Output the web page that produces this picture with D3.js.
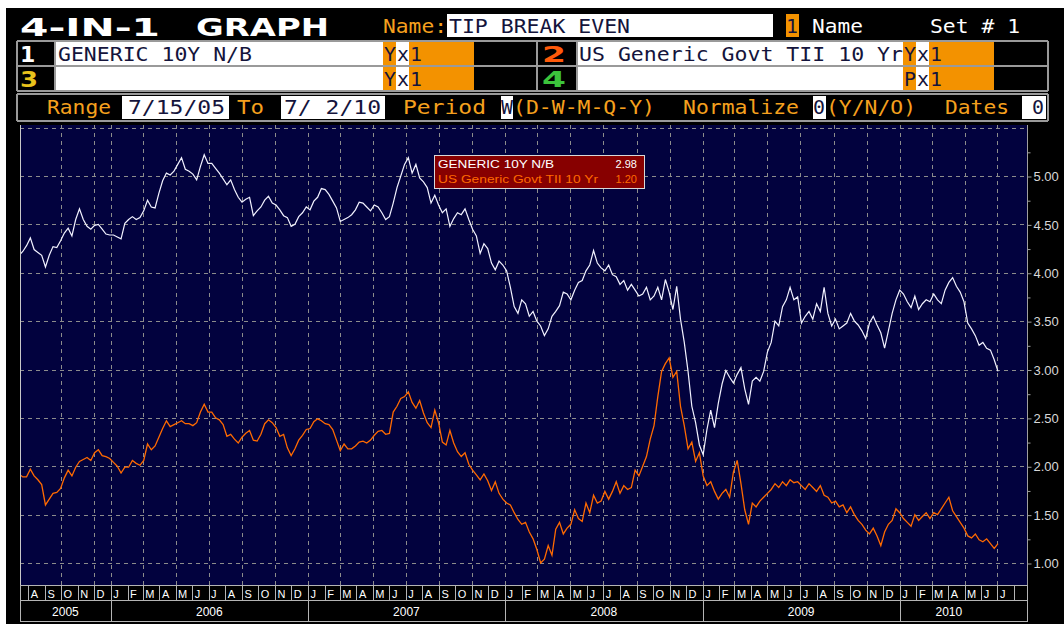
<!DOCTYPE html>
<html>
<head>
<meta charset="utf-8">
<script src="https://cdn.jsdelivr.net/npm/d3@7"></script>
<style>
  body { margin: 0; background: #fff; }
  svg { display: block; }
</style>
</head>
<body>
<div id="chart"></div>
<script>
'use strict';

// weekly closes (Fridays) from 7/15/05 to 7/2/10
var startDate = '2005-07-15';

var nominal10y = [
  4.18,4.22,4.28,4.36,4.24,4.21,4.18,4.06,4.18,4.27,
  4.26,4.33,4.41,4.46,4.38,4.55,4.66,4.55,4.48,4.45,
  4.49,4.50,4.45,4.40,4.39,4.39,4.37,4.35,4.51,4.55,
  4.58,4.55,4.57,4.64,4.75,4.68,4.67,4.82,4.95,5.03,
  5.01,5.05,5.12,5.19,5.07,5.05,5.02,4.96,5.10,5.22,
  5.13,5.13,5.08,5.03,4.97,4.91,4.96,4.86,4.78,4.73,
  4.76,4.78,4.59,4.64,4.68,4.75,4.79,4.72,4.70,4.65,
  4.59,4.57,4.48,4.50,4.58,4.62,4.68,4.65,4.74,4.78,
  4.87,4.86,4.81,4.74,4.67,4.53,4.55,4.57,4.60,4.65,
  4.73,4.72,4.68,4.64,4.70,4.68,4.62,4.55,4.58,4.72,
  4.88,5.00,5.12,5.19,5.03,5.12,4.98,4.94,4.88,4.72,
  4.80,4.70,4.62,4.66,4.48,4.56,4.62,4.60,4.66,4.55,
  4.45,4.38,4.20,4.30,4.25,4.10,4.03,4.12,4.08,4.02,
  3.85,3.65,3.58,3.72,3.68,3.55,3.60,3.50,3.45,3.35,
  3.42,3.55,3.60,3.66,3.80,3.78,3.72,3.82,3.90,3.92,
  4.02,4.08,4.23,4.10,4.05,4.02,4.08,3.98,3.96,3.88,
  3.92,3.82,3.88,3.82,3.76,3.78,3.85,3.72,3.76,3.85,
  3.72,3.93,3.80,3.62,3.86,3.52,3.28,2.98,2.62,2.45,
  2.22,2.12,2.38,2.58,2.40,2.65,2.85,2.99,2.92,2.86,
  2.95,3.02,2.80,2.64,2.88,2.92,2.88,2.98,3.18,3.28,
  3.50,3.45,3.65,3.72,3.85,3.72,3.75,3.48,3.55,3.60,
  3.52,3.68,3.60,3.85,3.58,3.45,3.52,3.42,3.45,3.48,
  3.58,3.50,3.46,3.40,3.32,3.48,3.55,3.46,3.38,3.22,
  3.40,3.58,3.72,3.82,3.78,3.70,3.64,3.76,3.62,3.68,
  3.72,3.70,3.78,3.72,3.68,3.82,3.90,3.95,3.86,3.80,
  3.70,3.48,3.42,3.35,3.25,3.28,3.22,3.20,3.10,2.98
];

var tips10y = [
  1.92,1.89,1.89,1.97,1.90,1.86,1.81,1.60,1.66,1.72,
  1.73,1.77,1.88,1.96,1.90,1.99,2.05,2.07,2.09,2.06,
  2.14,2.17,2.11,2.10,2.08,2.04,2.00,1.93,1.99,1.99,
  2.06,2.03,2.01,2.06,2.23,2.17,2.21,2.30,2.39,2.47,
  2.41,2.43,2.45,2.47,2.44,2.44,2.42,2.45,2.56,2.64,
  2.56,2.56,2.50,2.48,2.43,2.31,2.33,2.28,2.24,2.30,
  2.34,2.37,2.27,2.26,2.33,2.44,2.48,2.45,2.40,2.31,
  2.33,2.19,2.11,2.18,2.27,2.32,2.38,2.39,2.46,2.49,
  2.47,2.44,2.43,2.38,2.27,2.16,2.23,2.18,2.18,2.21,
  2.25,2.26,2.24,2.27,2.32,2.36,2.37,2.33,2.34,2.56,
  2.62,2.70,2.72,2.77,2.66,2.60,2.68,2.55,2.45,2.40,
  2.58,2.45,2.25,2.22,2.37,2.24,2.15,2.10,2.14,2.02,
  1.96,1.91,1.86,1.92,1.85,1.75,1.84,1.72,1.66,1.62,
  1.60,1.52,1.45,1.40,1.42,1.32,1.25,1.14,1.00,1.04,
  1.18,1.08,1.35,1.42,1.30,1.36,1.40,1.55,1.46,1.43,
  1.62,1.52,1.70,1.62,1.64,1.74,1.66,1.74,1.84,1.72,
  1.80,1.76,1.78,1.96,1.90,2.00,2.10,2.28,2.42,2.72,
  2.98,3.06,3.12,2.92,2.98,2.62,2.42,2.18,2.25,2.05,
  2.14,1.90,1.80,1.84,1.74,1.66,1.72,1.76,1.68,1.94,
  2.06,1.82,1.55,1.40,1.62,1.58,1.64,1.68,1.72,1.76,
  1.82,1.78,1.84,1.80,1.86,1.83,1.84,1.80,1.76,1.82,
  1.78,1.74,1.80,1.70,1.68,1.62,1.64,1.58,1.60,1.52,
  1.58,1.50,1.44,1.40,1.34,1.30,1.36,1.28,1.18,1.32,
  1.40,1.44,1.56,1.52,1.46,1.42,1.38,1.50,1.44,1.48,
  1.52,1.46,1.52,1.50,1.56,1.62,1.68,1.54,1.48,1.42,
  1.36,1.28,1.26,1.30,1.24,1.22,1.25,1.20,1.15,1.20
];

var seriesNames = ['GENERIC 10Y N/B', 'US Generic Govt TII 10 Yr'];
var yTicks = [1.00, 1.50, 2.00, 2.50, 3.00, 3.50, 4.00, 4.50, 5.00];
var yGrid = [1.00, 1.50, 2.00, 2.50, 3.00, 3.50, 4.00, 4.50, 5.00, 5.50];
var monthLetters = ['J','F','M','A','M','J','J','A','S','O','N','D'];
var extraGridMonths = ['2005-10-01', '2005-12-01'];

var W = 1064, H = 624;
var plot = {left: 20, right: 1027, top: 125, bottom: 585};
var MONO = "'DejaVu Sans Mono', monospace";
var SANS = "'Liberation Sans', Arial, sans-serif";
var AMBER = '#f5a01e', ORANGE = '#f39200', INK = '#14143c', BORDER = '#9a9a9a';

var parse = d3.timeParse('%Y-%m-%d');
var dates = nominal10y.map(function(v, i){ return d3.timeDay.offset(parse(startDate), 7 * i); });
var last = dates[dates.length - 1];

var x = d3.scaleTime().domain([dates[0], last]).range([19, 998]);
var y = d3.scaleLinear().domain([1, 5]).range([563, 176]);

var svg = d3.select('#chart').append('svg').attr('width', W).attr('height', H);
svg.append('rect').attr('width', W).attr('height', H).attr('fill', '#fff');
svg.append('rect').attr('x', 6).attr('y', 8).attr('width', W - 6).attr('height', H - 8).attr('fill', '#000');

// ---------- header ----------
var header = svg.append('g');

function cell(x0, x1, y0, y1, fill){
  header.append('rect').attr('x', x0).attr('y', y0)
    .attr('width', x1 - x0).attr('height', y1 - y0).attr('fill', fill);
}
function word(x0, base, str, fill, pitch){
  pitch = pitch || 13;
  header.append('text').attr('x', x0).attr('y', base).attr('fill', fill)
    .attr('font-family', MONO).attr('font-size', 20)
    .attr('textLength', str.length * pitch - 1).attr('lengthAdjust', 'spacingAndGlyphs')
    .text(str);
}
function digit(x0, base, str, fill, len){
  var t = header.append('text').attr('x', x0).attr('y', base).attr('fill', fill)
    .attr('font-family', "'DejaVu Sans', sans-serif").attr('font-weight', 'bold').attr('font-size', 22)
    .text(str);
  if (len) t.attr('textLength', len).attr('lengthAdjust', 'spacingAndGlyphs');
}
function hline(x0, x1, yy){
  header.append('line').attr('x1', x0).attr('x2', x1).attr('y1', yy).attr('y2', yy)
    .attr('stroke', BORDER).attr('stroke-width', 2);
}
function vline(xx, y0, y1){
  header.append('line').attr('x1', xx).attr('x2', xx).attr('y1', y0).attr('y2', y1)
    .attr('stroke', BORDER).attr('stroke-width', 2);
}

// row 1
header.append('text').attr('x', 20).attr('y', 36).attr('fill', '#fff')
  .attr('font-family', "'DejaVu Sans', sans-serif").attr('font-weight', 'bold').attr('font-size', 25)
  .attr('textLength', 140).attr('lengthAdjust', 'spacingAndGlyphs').text('4-IN-1');
header.append('text').attr('x', 196).attr('y', 36).attr('fill', '#fff')
  .attr('font-family', "'DejaVu Sans', sans-serif").attr('font-weight', 'bold').attr('font-size', 25)
  .attr('textLength', 133).attr('lengthAdjust', 'spacingAndGlyphs').text('GRAPH');
word(383, 33, 'Name:', AMBER);
cell(447, 773, 14, 37, '#fff');
word(449, 33, 'TIP BREAK EVEN', INK);
cell(786, 799, 14, 37, ORANGE);
word(786, 33, '1', INK);
word(812, 33, 'Name', '#fff');
word(930, 33, 'Set # 1', '#fff');

// rows 2 & 3 : security lines
var rows = [
  {y0: 42, y1: 65, base: 61, n1: '1', c1: '#ffffff', n2: '2', c2: '#ff5a0a', s1: seriesNames[0], s2: seriesNames[1], k2: 'Y'},
  {y0: 67, y1: 90, base: 86, n1: '3', c1: '#e8c21c', n2: '4', c2: '#3cc43c', s1: '', s2: '', k2: 'P'}
];
rows.forEach(function(r){
  cell(55, 383, r.y0, r.y1, '#fff');
  cell(383, 396, r.y0, r.y1, ORANGE);
  cell(396, 409, r.y0, r.y1, '#fff');
  cell(409, 474, r.y0, r.y1, ORANGE);
  cell(577, 903, r.y0, r.y1, '#fff');
  cell(903, 916, r.y0, r.y1, ORANGE);
  cell(916, 929, r.y0, r.y1, '#fff');
  cell(929, 994, r.y0, r.y1, ORANGE);
  digit(20, r.base + 1, r.n1, r.c1, r.n1 === '1' ? null : 18);
  digit(542, r.base + 1, r.n2, r.c2, 24);
  if (r.s1) word(58, r.base, r.s1, INK);
  if (r.s2) word(579, r.base, r.s2, INK);
  word(384, r.base, 'Y', INK);
  word(397, r.base, 'x', INK);
  word(410, r.base, '1', INK);
  word(904, r.base, r.k2, INK);
  word(917, r.base, 'x', INK);
  word(930, r.base, '1', INK);
});
hline(17, 1048, 41);
hline(17, 1048, 66);
hline(17, 1048, 91);
vline(17, 41, 91);
vline(55, 41, 91);
vline(537, 41, 91);
vline(577, 41, 91);
vline(1048, 41, 91);

// row 4 : range line
hline(17, 1048, 94);
hline(17, 1048, 121);
vline(17, 94, 121);
vline(1048, 94, 121);
word(47, 114, 'Range', AMBER);
cell(122, 229, 96, 119, '#fff');
word(128, 114, '7/15/05', INK, 14);
word(237, 114, 'To', AMBER, 14);
cell(281, 385, 96, 119, '#fff');
word(284, 114, '7/ 2/10', INK, 14);
word(403, 114, 'Period', AMBER, 14);
cell(501, 513, 96, 119, '#fff');
word(501, 114, 'W', INK);
word(513, 114, '(D-W-M-Q-Y)', AMBER);
word(683, 114, 'Normalize', AMBER);
cell(813, 826, 96, 119, '#fff');
word(813, 114, '0', INK);
word(826, 114, '(Y/N/O)', AMBER);
word(945, 114, 'Dates', AMBER);
cell(1022, 1046, 96, 119, '#fff');
word(1032, 114, '0', INK);

// ---------- plot ----------
svg.append('rect').attr('x', plot.left).attr('y', plot.top)
  .attr('width', plot.right - plot.left).attr('height', plot.bottom - plot.top)
  .attr('fill', '#02023e');

svg.append('clipPath').attr('id', 'clip').append('rect')
  .attr('x', plot.left).attr('y', plot.top)
  .attr('width', plot.right - plot.left).attr('height', plot.bottom - plot.top);

var grid = svg.append('g').attr('stroke', '#8c8c8c').attr('stroke-dasharray', '4,4').attr('stroke-width', 1);

grid.selectAll('.hg').data(yGrid).enter().append('line')
  .attr('x1', plot.left).attr('x2', plot.right)
  .attr('y1', function(d){ return Math.round(y(d)) + 0.5; })
  .attr('y2', function(d){ return Math.round(y(d)) + 0.5; });

var xEnd = x.invert(plot.right);
var gridMonths = extraGridMonths.map(parse)
  .concat(d3.timeMonth.every(2).range(parse('2006-01-01'), xEnd));
grid.selectAll('.vg').data(gridMonths).enter().append('line')
  .attr('y1', plot.top).attr('y2', plot.bottom)
  .attr('x1', function(d){ return Math.round(x(d)) + 0.5; })
  .attr('x2', function(d){ return Math.round(x(d)) + 0.5; });

var line = d3.line()
  .x(function(d){ return x(d.date); })
  .y(function(d){ return y(d.v); });

function toPoints(arr){
  return arr.map(function(v, i){ return {date: dates[i], v: v}; });
}

var lines = svg.append('g').attr('clip-path', 'url(#clip)');
lines.append('path').datum(toPoints(nominal10y))
  .attr('d', line).attr('fill', 'none').attr('stroke', '#f2f2ff').attr('stroke-width', 1.2);
lines.append('path').datum(toPoints(tips10y))
  .attr('d', line).attr('fill', 'none').attr('stroke', '#ff6a00').attr('stroke-width', 1.3);

// plot frame
svg.append('line').attr('x1', plot.left + 0.5).attr('x2', plot.left + 0.5)
  .attr('y1', plot.top).attr('y2', plot.bottom).attr('stroke', '#c8c8c8');
svg.append('line').attr('x1', plot.right + 0.5).attr('x2', plot.right + 0.5)
  .attr('y1', plot.top).attr('y2', plot.bottom).attr('stroke', '#a0a0a0');

// right axis
var gy = svg.append('g').attr('transform', 'translate(' + (plot.right + 0.5) + ',0.5)')
  .call(d3.axisRight(y).tickValues(yTicks).tickFormat(d3.format('.2f')).tickSize(4).tickPadding(2));
gy.select('.domain').remove();
gy.selectAll('line').attr('stroke', '#a0a0a0');
gy.selectAll('text').attr('fill', '#d8d8d8').attr('font-family', SANS).attr('font-size', 13);

var gm = svg.append('g').attr('transform', 'translate(' + (plot.right + 0.5) + ',0.5)')
  .call(d3.axisRight(y).tickValues(d3.range(1.25, 5.5, 0.5)).tickFormat('').tickSize(3));
gm.select('.domain').remove();
gm.selectAll('line').attr('stroke', '#a0a0a0');

// ---------- date bar ----------
var bar = svg.append('g');
var months = d3.timeMonth.range(d3.timeMonth.floor(dates[0]), xEnd);
months.forEach(function(m){
  var x0 = Math.max(plot.left, x(m));
  var x1 = Math.min(plot.right, x(d3.timeMonth.offset(m, 1)));
  bar.append('rect').attr('x', Math.round(x0) + 0.5).attr('y', 585.5)
    .attr('width', Math.max(0, Math.round(x1) - Math.round(x0))).attr('height', 15)
    .attr('fill', 'none').attr('stroke', '#b4b4b4');
  if (m > dates[0] && m <= last) {
    bar.append('text').attr('x', x0 + 2.5).attr('y', 597.5)
      .attr('fill', '#fff').attr('font-family', SANS).attr('font-size', 11)
      .text(monthLetters[m.getMonth()]);
  }
});

var years = d3.timeYear.range(d3.timeYear.floor(dates[0]), xEnd);
years.forEach(function(yr){
  var x0 = Math.max(plot.left, x(yr));
  var x1 = Math.min(plot.right, x(d3.timeYear.offset(yr, 1)));
  bar.append('rect').attr('x', Math.round(x0) + 0.5).attr('y', 600.5)
    .attr('width', Math.round(x1) - Math.round(x0)).attr('height', 21)
    .attr('fill', 'none').attr('stroke', '#b4b4b4');
  bar.append('text').attr('x', (x0 + Math.min(x1, x(last))) / 2).attr('y', 616)
    .attr('text-anchor', 'middle').attr('fill', '#fff')
    .attr('font-family', SANS).attr('font-size', 12)
    .text(yr.getFullYear());
});

// ---------- last value box ----------
var tip = svg.append('g');
tip.append('rect').attr('x', 434.5).attr('y', 155.5).attr('width', 210).attr('height', 33)
  .attr('fill', '#870000').attr('stroke', '#d8d8d8');
var lastVals = [nominal10y[nominal10y.length - 1], tips10y[tips10y.length - 1]];
var tipColors = ['#ffffff', '#ff6a00'];
var tipLens = [116, 160];
seriesNames.forEach(function(name, i){
  tip.append('text').attr('x', 438).attr('y', 168 + i * 15).attr('fill', tipColors[i])
    .attr('font-family', SANS).attr('font-size', 11)
    .attr('textLength', tipLens[i]).attr('lengthAdjust', 'spacingAndGlyphs').text(name);
  tip.append('text').attr('x', 637).attr('y', 168 + i * 15).attr('fill', tipColors[i])
    .attr('text-anchor', 'end').attr('font-family', SANS).attr('font-size', 11)
    .text(d3.format('.2f')(lastVals[i]));
});
</script>
</body>
</html>
